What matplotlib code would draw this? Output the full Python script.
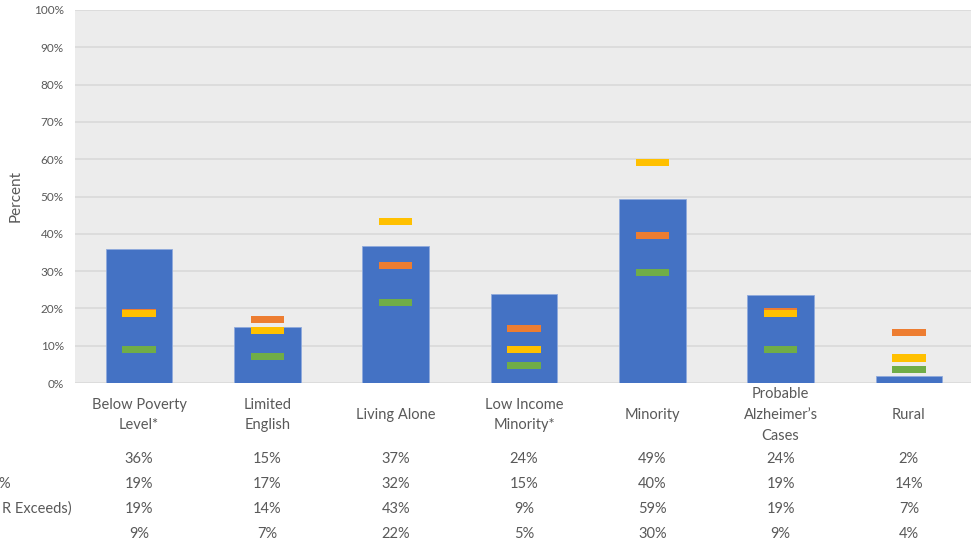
import numpy as np
import matplotlib
matplotlib.use('Agg')
from matplotlib import pyplot as plt
from matplotlib import transforms

plt.rcParams['font.family'] = ['Lato', 'DejaVu Sans']

# categories and series (percent)
categories = ['Below Poverty\nLevel*', 'Limited\nEnglish', 'Living Alone', 'Low Income\nMinority*',
              'Minority', 'Probable\nAlzheimer\u2019s\nCases', 'Rural']
bar_vals = [35.9, 15.0, 36.7, 23.9, 49.2, 23.6, 1.8]
orange_vals = [19.0, 17.1, 31.6, 14.7, 39.6, 19.2, 13.6]
yellow_vals = [18.6, 14.0, 43.4, 9.1, 59.2, 18.6, 6.7]
green_vals = [9.1, 7.0, 21.6, 4.6, 29.6, 9.1, 3.6]
row_labels = ['', '%', 'R Exceeds)', '']
yticks = list(range(0, 101, 10))

txt_color = '#595959'
W, H = 971, 546

fig = plt.figure(figsize=(W / 100, H / 100), dpi=100)
ax = fig.add_axes([75 / W, 1 - 383 / H, 898 / W, 373 / H])
ax.set_facecolor('#ECECEC')
for s in ax.spines.values():
    s.set_visible(False)

x = np.arange(len(categories))
ax.set_axisbelow(True)
ax.yaxis.grid(True, color='#D9D9D9', linewidth=1.2)
ax.bar(x, bar_vals, width=0.52, color='#4472C4', edgecolor='#8FAADC', linewidth=0.6, zorder=2)

mh = 1.9  # marker thickness in percent units
for vals, col in [(orange_vals, '#ED7D31'), (yellow_vals, '#FFC000'), (green_vals, '#70AD47')]:
    ax.bar(x, mh, bottom=np.array(vals) - mh / 2, width=0.26, color=col, zorder=3)

ax.set_xlim(-0.5, len(categories) - 0.5)
ax.set_ylim(0, 100)
ax.set_yticks(yticks)
ax.set_yticklabels(['{}%'.format(t) for t in yticks], fontsize=8.5, color=txt_color)
ax.tick_params(axis='y', length=0, pad=8)
ax.set_xticks([])
ax.set_ylabel('Percent', fontsize=11, color=txt_color, labelpad=8)

# category labels and data table below the plot
trans = transforms.blended_transform_factory(ax.transData, fig.transFigure)
for i, c in enumerate(categories):
    ax.text(i, 1 - 415 / H, c, transform=trans, ha='center', va='center', fontsize=10.5,
            color=txt_color, linespacing=1.6)

rows = [bar_vals, orange_vals, yellow_vals, green_vals]
row_y = [459, 484, 509, 534]
for vals, yy in zip(rows, row_y):
    for i, v in enumerate(vals):
        ax.text(i, 1 - yy / H, '{:.0f}%'.format(v), transform=trans, ha='center', va='center',
                fontsize=10.5, color=txt_color)
for lab, yy in zip(row_labels, row_y):
    if lab:
        right = 10 if lab == '%' else 72
        fig.text(right / W, 1 - yy / H, lab, ha='right', va='center', fontsize=10.5, color=txt_color)

fig.savefig('out.png', dpi=100)
